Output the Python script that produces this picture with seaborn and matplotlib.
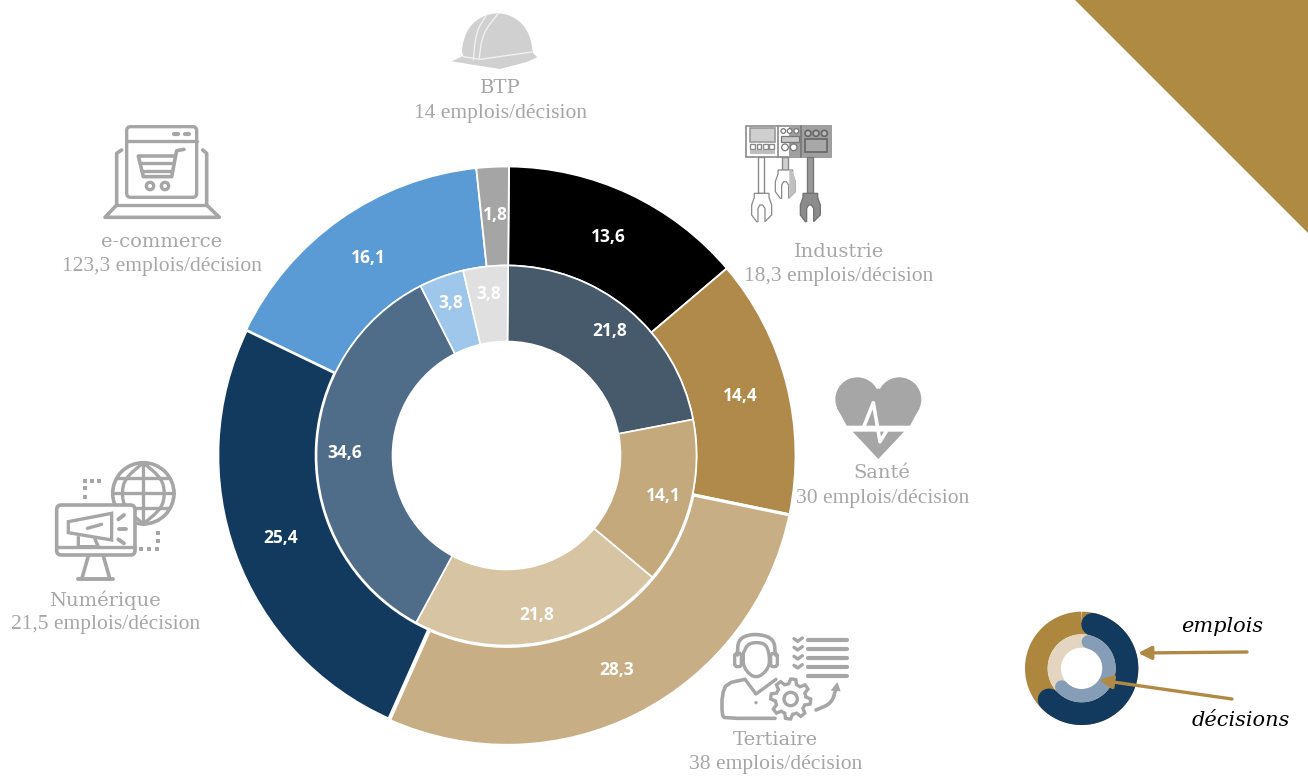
import numpy as np
import matplotlib
matplotlib.use("Agg")
import matplotlib.pyplot as plt
from matplotlib.patches import Polygon, Circle, FancyBboxPatch, Rectangle, FancyArrowPatch
import seaborn as sns

# ---------- data ----------
emplois_labels = ["Industrie", "Santé", "Tertiaire", "Numérique", "e-commerce", "BTP"]
emplois_values = [13.6, 14.4, 28.3, 25.4, 16.1, 1.8]
decisions_values = [21.8, 14.1, 21.8, 34.6, 3.8, 3.8]
ratio_texts = ["18,3 emplois/décision", "30 emplois/décision", "38 emplois/décision",
               "21,5 emplois/décision", "123,3 emplois/décision", "14 emplois/décision"]
outer_colors = ["#000000", "#B08A4A", "#C8AE84", "#113A5E", "#5B9BD5", "#A5A5A5"]
inner_colors = ["#465A6C", "#C4A97C", "#D7C4A2", "#4F6C88", "#9FC7EC", "#E0E0E0"]
gap_offsets = [0, 0, 1, 0, 0, 0]
outer_edges = [1.3, 1.3, 2.2, 2.6, 1.3, 1.3]
inner_edges = [1.2, 1.2, 1.2, 1.2, 1.2, 1.2]

sns.set_theme(style="white")
W, H = 1308, 778
GREY = "#A6A6A6"
GOLD = "#AE873F"
fig = plt.figure(figsize=(W / 100, H / 100), dpi=100, facecolor="white")
ax = fig.add_axes([0, 0, 1, 1])
CX, CY = 506.5, H - 455.5
SERIF = "Liberation Serif"


def fmt(v):
    return f"{v:.1f}".replace(".", ",")


def pie_ring(values, colors, radius, width, label_r, edges, explode=None):
    wedges, _ = ax.pie(values, colors=colors, radius=radius, center=(CX, CY), startangle=89.5,
                       counterclock=False, explode=explode,
                       wedgeprops=dict(width=width, edgecolor="white"))
    for w, v, e in zip(wedges, values, edges):
        w.set_linewidth(e)
        a = np.deg2rad((w.theta1 + w.theta2) / 2)
        ax.text(CX + label_r * np.cos(a), CY + label_r * np.sin(a), fmt(v), color="white",
                family="Open Sans", weight="bold", fontsize=12.5, ha="center", va="center", zorder=5)


pie_ring(emplois_values, outer_colors, 289, 99, 241, outer_edges, explode=gap_offsets)
pie_ring(decisions_values, inner_colors, 190, 76, 162, inner_edges)
ax.set_xlim(0, W)
ax.set_ylim(0, H)
ax.set_aspect("equal")
ax.set_frame_on(False)
ax.set_xticks([])
ax.set_yticks([])


# ---------- helpers in zoom-crop coordinates ----------
def Z(ox, oy, pts):
    p = np.asarray(pts, float)
    return np.column_stack([ox + p[:, 0] / 3, H - (oy + p[:, 1] / 3)])


def smooth(p, n=3, closed=True):
    p = np.asarray(p, float)
    for _ in range(n):
        q = np.roll(p, -1, axis=0) if closed else p[1:]
        b = p if closed else p[:-1]
        new = np.empty((2 * len(b), 2))
        new[0::2] = 0.75 * b + 0.25 * q
        new[1::2] = 0.25 * b + 0.75 * q
        p = new if closed else np.vstack([p[0], new, p[-1]])
    return p


def poly(o, pts, fc=GREY, ec="none", lw=0, sm=0, z=3):
    p = Z(*o, pts)
    if sm:
        p = smooth(p, sm)
    ax.add_patch(Polygon(p, closed=True, fc=fc, ec=ec, lw=lw, zorder=z))


def line(o, pts, c=GREY, lw=2.2, sm=0, z=4, cap="round"):
    p = Z(*o, pts)
    if sm:
        p = smooth(p, sm, closed=False)
    ax.plot(p[:, 0], p[:, 1], color=c, lw=lw, solid_capstyle=cap, solid_joinstyle="round", zorder=z)


def circ(o, c, r, fc="none", ec=GREY, lw=2.2, z=4):
    x, y = Z(*o, [c])[0]
    ax.add_patch(Circle((x, y), r / 3, fc=fc, ec=ec, lw=lw, zorder=z))


def rect(o, x0, y0, x1, y1, fc="none", ec=GREY, lw=2.2, z=4):
    p = Z(*o, [(x0, y1)])[0]
    ax.add_patch(Rectangle(p, (x1 - x0) / 3, (y1 - y0) / 3, fc=fc, ec=ec, lw=lw, zorder=z))


def rrect(o, x0, y0, x1, y1, r=12, fc="none", ec=GREY, lw=2.2, z=4):
    p = Z(*o, [(x0 + r, y1 - r)])[0]
    ax.add_patch(FancyBboxPatch(p, (x1 - x0 - 2 * r) / 3, (y1 - y0 - 2 * r) / 3,
                                boxstyle=f"round,pad={r/3},rounding_size={r/3}",
                                fc=fc, ec=ec, lw=lw, zorder=z))


# ---------- corner triangle ----------
ax.add_patch(Polygon([(1075, H), (W, H), (W, H - 233)], closed=True, fc="#AF8A42", ec="none", zorder=1))

# ---------- category captions ----------
caption_pos = [(839, 252, 839, 276), (882, 473, 883, 498), (775, 740, 776, 764),
               (105, 600, 106, 625), (162, 242, 162, 266), (500, 88, 500, 113)]
for name, txt, (x1, y1, x2, y2) in zip(emplois_labels, ratio_texts, caption_pos):
    ax.text(x1, H - y1, name, family="DejaVu Serif", fontsize=14, color=GREY, ha="center", va="center", zorder=6)
    ax.text(x2, H - y2, txt, family=SERIF, fontsize=15.5, color=GREY, ha="center", va="center", zorder=6)

# ---------- helmet ----------
o = (400, 0)
LG = "#D0D0D0"
poly(o, [(185, 175), (188, 125), (210, 75), (255, 44), (310, 38), (360, 62), (390, 105), (400, 165),
         (398, 172), (300, 190), (240, 182)], fc=LG, sm=2)
poly(o, [(155, 184), (190, 168), (240, 178), (398, 158), (412, 172), (380, 186), (300, 207), (230, 196)], fc=LG)
line(o, [(262, 42), (228, 95), (220, 180)], c="#F0F0F0", lw=1, sm=2)
line(o, [(295, 40), (248, 100), (237, 178)], c="#F0F0F0", lw=1, sm=2)
line(o, [(190, 170), (240, 178), (396, 156)], c="#F0F0F0", lw=1)

# ---------- industry ----------
o = (720, 110)
rect(o, 77, 47, 332, 142, fc="white", ec="#8A8A8A", lw=1.2)
rect(o, 208, 47, 332, 142, fc="#A0A0A0", ec="none", lw=0)
line(o, [(175, 47), (175, 142)], c="#8A8A8A", lw=1.2)
line(o, [(242, 47), (242, 142)], c="#777777", lw=1.2)
rect(o, 90, 55, 165, 95, fc="#CFCFCF", ec="#9A9A9A", lw=1.2)
for x in (98, 117, 136, 155):
    rect(o, x - 7, 103, x + 7, 118, fc="white", ec="#8A8A8A", lw=1)
rect(o, 90, 120, 165, 132, fc="#BDBDBD", ec="none", lw=0)
for x in (190, 209, 229):
    circ(o, (x, 63), 7, fc="white", ec="#777777", lw=0.9)
rect(o, 182, 77, 236, 96, fc="#C9C9C9", ec="#777777", lw=0.9)
for x in (195, 221):
    circ(o, (x, 112), 10, fc="white", ec="#777777", lw=0.9)
for x in (264, 288, 313):
    circ(o, (x, 70), 9, fc="#BBBBBB", ec="#666666", lw=1.2)
rect(o, 255, 87, 320, 125, fc="#A8A8A8", ec="#666666", lw=1.2)


def claw(dx, dy, fc, ec):
    pts = [(95, 285), (103, 262), (103, 250), (147, 250), (147, 262), (155, 285), (155, 315), (135, 335),
           (135, 295), (128, 285), (120, 285), (114, 295), (114, 335), (110, 335), (95, 315)]
    poly(o, [(x + dx, y + dy) for x, y in pts], fc=fc, ec=ec, lw=0.9, z=4)


rect(o, 115, 142, 133, 250, fc="white", ec="#8A8A8A", lw=1)
claw(0, 0, "white", "#8A8A8A")
rect(o, 187, 142, 205, 180, fc="#D0D0D0", ec="#8A8A8A", lw=1)
claw(71, -70, "white", "#8A8A8A")
poly(o, [(208, 182), (218, 182), (227, 215), (227, 245), (208, 265)], fc="#C0C0C0", z=4)
rect(o, 262, 142, 280, 250, fc="#999999", ec="#777777", lw=1)
claw(146, 0, "#8C8C8C", "#707070")

# ---------- health ----------
o = (780, 360)
circ(o, (232, 118), 66, fc=GREY, ec="none", lw=0, z=3)
circ(o, (358, 118), 66, fc=GREY, ec="none", lw=0, z=3)
poly(o, [(172, 145), (200, 197), (390, 197), (418, 145), (295, 85)])
poly(o, [(218, 215), (372, 215), (295, 297)])
line(o, [(195, 204), (250, 204), (280, 128), (300, 245), (325, 204), (395, 204)], c="white", lw=2.6)

# ---------- tertiary ----------
o = (700, 620)
line(o, [(112, 105), (115, 55), (165, 40), (222, 55), (226, 105)], lw=2.6, sm=3)
rrect(o, 104, 100, 124, 140, r=8, lw=2.4)
rrect(o, 212, 100, 232, 140, r=8, lw=2.4)
line(o, [(130, 100), (130, 145), (168, 178), (208, 145), (208, 100), (195, 68), (145, 68), (130, 100)], lw=2.4, sm=2)
line(o, [(135, 178), (80, 190), (66, 225), (66, 285), (75, 295), (225, 295)], lw=2.6, sm=1)
line(o, [(135, 178), (168, 222), (228, 178)], lw=2.4)
circ(o, (168, 248), 5, fc=GREY, ec="none", lw=0)
ang = np.linspace(0, 2 * np.pi, 49)[:-1]
gear_r = np.where((np.arange(48) % 6) < 3, 60, 46)
gear = np.column_stack([272 + gear_r * np.cos(ang), 237 + gear_r * np.sin(ang)])
poly(o, gear, fc="white", ec=GREY, lw=2.4, z=4)
circ(o, (272, 237), 20, fc="white", lw=2.4, z=5)
for y in (60, 86, 113, 140, 167):
    line(o, [(325, y), (442, y)], lw=3)
for y in (60, 86, 113, 140):
    line(o, [(282, y - 4), (293, y + 4), (307, y - 6)], lw=2.4)
line(o, [(348, 270), (395, 250), (408, 205)], lw=2.6, sm=2)
poly(o, [(392, 212), (412, 186), (422, 214)], z=4)

# ---------- digital ----------
o = (0, 450)
circ(o, (430, 130), 92, fc="white", lw=2.6)
line(o, [(430, 38), (430, 222)], lw=2.4)
line(o, [(338, 130), (522, 130)], lw=2.4)
line(o, [(352, 85), (508, 85)], lw=2.4)
line(o, [(352, 175), (508, 175)], lw=2.4)
line(o, [(430, 38), (375, 85), (365, 130), (375, 175), (430, 222)], lw=2.4, sm=2)
line(o, [(430, 38), (485, 85), (495, 130), (485, 175), (430, 222)], lw=2.4, sm=2)
rrect(o, 170, 165, 405, 315, r=14, fc="white", lw=2.6, z=4.5)
line(o, [(170, 290), (405, 290)], lw=2.4, z=4.6)
line(o, [(265, 318), (245, 388)], lw=2.6)
line(o, [(310, 318), (330, 388)], lw=2.6)
line(o, [(235, 388), (340, 388)], lw=2.8)
poly(o, [(205, 215), (335, 190), (335, 270), (205, 248)], fc="white", ec=GREY, lw=2.4, z=4.7)
line(o, [(235, 262), (235, 290), (295, 290), (285, 268)], lw=2.4, z=4.7)
line(o, [(262, 235), (305, 223)], lw=2.4, z=4.8)
line(o, [(355, 208), (372, 195)], lw=2.8, z=4.8)
line(o, [(358, 237), (378, 237)], lw=2.8, z=4.8)
line(o, [(355, 268), (372, 280)], lw=2.8, z=4.8)
for x in (256, 276, 298):
    rect(o, x - 6, 88, x + 6, 100, fc=GREY, lw=0)
for y in (115, 140):
    rect(o, 250, y - 6, 262, y + 6, fc=GREY, lw=0)
for x in (424, 447, 470):
    rect(o, x - 6, 290, x + 6, 302, fc=GREY, lw=0)
for y in (250, 272):
    rect(o, 467, y - 6, 479, y + 6, fc=GREY, lw=0)

# ---------- e-commerce ----------
o = (60, 110)
rrect(o, 200, 50, 410, 262, r=12, lw=2.4)
line(o, [(200, 92), (410, 92)], lw=2.4)
line(o, [(342, 72), (355, 72)], lw=3)
line(o, [(375, 72), (388, 72)], lw=3)
line(o, [(185, 120), (170, 130), (170, 285), (135, 322), (478, 322), (440, 285), (440, 130), (428, 120)], lw=2.6)
line(o, [(170, 285), (440, 285)], lw=2.4)
line(o, [(372, 118), (350, 122), (335, 200), (250, 200), (235, 138), (345, 138)], lw=2.6)
line(o, [(240, 160), (340, 160)], lw=2.4)
line(o, [(246, 182), (337, 182)], lw=2.4)
circ(o, (270, 228), 11, lw=2.4)
circ(o, (315, 228), 11, lw=2.4)

# ---------- mini legend donut ----------
LC, LY = 245, 235


def arc(r, a0, a1, c, width, cap="round", z=5):
    t = np.deg2rad(np.linspace(a0, a1, 120))
    ax.plot(1000 + (LC + r * np.sin(t)) / 3, H - (590 + (LY - r * np.cos(t)) / 3), color=c, lw=width * 0.72 / 3,
            solid_capstyle=cap, zorder=z)


arc(136, 0, 360, GOLD, 68, cap="butt", z=4)
arc(136, 14, 226, "#113A5E", 68)
arc(82, 0, 360, "#E3D5BF", 40, cap="butt", z=4)
arc(82, 14, 227, "#869DB8", 40, z=6)
ax.text(1222, H - 627, "emplois", family="DejaVu Serif", style="italic", fontsize=15, color="black",
        ha="center", va="center", zorder=6)
ax.text(1241, H - 720, "décisions", family="DejaVu Serif", style="italic", fontsize=15, color="black",
        ha="center", va="center", zorder=6)
for (x0, y0), (x1, y1) in [((1247, 652), (1138, 653)), ((1232, 699), (1099, 680))]:
    ax.add_patch(FancyArrowPatch((x0, H - y0), (x1, H - y1), arrowstyle="-|>,head_length=3.6,head_width=1.8",
                                 mutation_scale=2.2, color="#B08A44", lw=2.4, shrinkA=0, shrinkB=0, zorder=7))

fig.savefig("out.png", dpi=100, facecolor="white")
